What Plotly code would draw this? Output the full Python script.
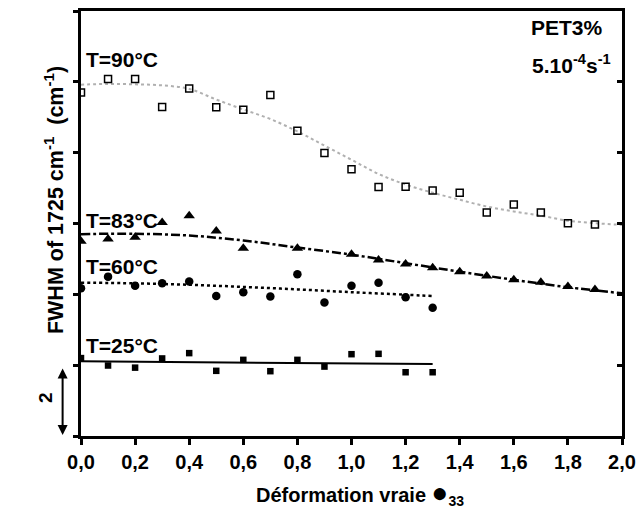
import plotly.graph_objects as go

# ---- data ----
x_90 = [0.0, 0.1, 0.2, 0.3, 0.4, 0.5, 0.6, 0.7, 0.8, 0.9, 1.0, 1.1, 1.2, 1.3, 1.4, 1.5, 1.6, 1.7, 1.8, 1.9]
fwhm_90 = [9.70, 10.08, 10.08, 9.29, 9.81, 9.28, 9.21, 9.63, 8.62, 7.99, 7.53, 7.03, 7.04, 6.93, 6.87, 6.31, 6.54, 6.31, 6.01, 5.97]
fit_90_x = [0.0, 0.1, 0.2, 0.3, 0.4, 0.5, 0.6, 0.7, 0.8, 0.9, 1.0, 1.1, 1.2, 1.3, 1.4, 1.5, 1.6, 1.7, 1.8, 1.9, 2.0]
fit_90 = [9.92, 9.94, 9.93, 9.90, 9.80, 9.50, 9.22, 8.95, 8.60, 8.20, 7.80, 7.40, 7.10, 6.87, 6.67, 6.48, 6.34, 6.22, 6.08, 6.01, 5.96]

x_83 = [0.0, 0.1, 0.2, 0.3, 0.4, 0.5, 0.6, 0.8, 1.0, 1.1, 1.2, 1.3, 1.4, 1.5, 1.6, 1.7, 1.8, 1.9]
fwhm_83 = [5.50, 5.56, 5.61, 6.03, 6.22, 5.79, 5.30, 5.30, 5.13, 4.97, 4.86, 4.75, 4.64, 4.52, 4.41, 4.34, 4.22, 4.14]
fit_83_x = [0.0, 0.2, 0.4, 0.6, 0.8, 1.0, 1.2, 1.4, 1.6, 1.8, 2.0]
fit_83 = [5.70, 5.71, 5.66, 5.52, 5.32, 5.12, 4.88, 4.64, 4.41, 4.20, 4.03]

x_60 = [0.0, 0.1, 0.2, 0.3, 0.4, 0.5, 0.6, 0.7, 0.8, 0.9, 1.0, 1.1, 1.2, 1.3]
fwhm_60 = [4.17, 4.50, 4.24, 4.31, 4.36, 3.95, 4.06, 3.94, 4.57, 3.77, 4.24, 4.33, 3.92, 3.62]
fit_60_x = [0.0, 0.2, 0.4, 0.6, 0.8, 1.0, 1.2, 1.3]
fit_60 = [4.33, 4.31, 4.27, 4.21, 4.14, 4.06, 3.99, 3.95]

x_25 = [0.0, 0.1, 0.2, 0.3, 0.4, 0.5, 0.6, 0.7, 0.8, 0.9, 1.0, 1.1, 1.2, 1.3]
fwhm_25 = [2.20, 1.99, 1.93, 2.19, 2.34, 1.84, 2.15, 1.83, 2.15, 1.96, 2.31, 2.32, 1.80, 1.80]
fit_25_x = [0.0, 1.3]
fit_25 = [2.11, 2.03]

x_ticks = [0.0, 0.2, 0.4, 0.6, 0.8, 1.0, 1.2, 1.4, 1.6, 1.8, 2.0]
scale_bar = [0.03, 1.95]  # the "2" FWHM units scale bar

FONT = "Liberation Sans, Arial, Helvetica, sans-serif"

fig = go.Figure()

# fitted curves
fig.add_trace(go.Scatter(x=fit_90_x, y=fit_90, mode="lines",
                         line=dict(color="#b0b0b0", width=2, dash="dot", shape="spline")))
fig.add_trace(go.Scatter(x=fit_83_x, y=fit_83, mode="lines",
                         line=dict(color="black", width=2.5, dash="dashdot", shape="spline")))
fig.add_trace(go.Scatter(x=fit_60_x, y=fit_60, mode="lines",
                         line=dict(color="black", width=2.5, dash="dot", shape="spline")))
fig.add_trace(go.Scatter(x=fit_25_x, y=fit_25, mode="lines",
                         line=dict(color="black", width=2)))

# data points
fig.add_trace(go.Scatter(x=x_90, y=fwhm_90, mode="markers",
                         marker=dict(symbol="square-open", size=7, color="black", line=dict(width=1.5))))
fig.add_trace(go.Scatter(x=x_83, y=fwhm_83, mode="markers",
                         marker=dict(symbol="triangle-up", size=10, color="black")))
fig.add_trace(go.Scatter(x=x_60, y=fwhm_60, mode="markers",
                         marker=dict(symbol="circle", size=8.5, color="black")))
fig.add_trace(go.Scatter(x=x_25, y=fwhm_25, mode="markers",
                         marker=dict(symbol="square", size=6.5, color="black")))

# invisible trace on the right-hand axis (for inward ticks)
fig.add_trace(go.Scatter(x=[0], y=[0], yaxis="y2", mode="markers",
                         marker=dict(opacity=0), hoverinfo="skip"))

ann = []
def label(text, x, y, size=21, xanchor="left", angle=0):
    ann.append(dict(text=text, x=x, y=y, xref="paper", yref="paper", showarrow=False,
                    xanchor=xanchor, yanchor="middle", textangle=angle,
                    font=dict(family=FONT, size=size, color="black", weight="bold")))

label("T=90°C", 0.006, 0.887)
label("T=83°C", 0.006, 0.508)
label("T=60°C", 0.006, 0.398)
label("T=25°C", 0.006, 0.214)
label("PET3%", 0.968, 0.962, size=21, xanchor="right")
label("5.10<sup>-4</sup>s<sup>-1</sup>", 0.984, 0.876, size=21, xanchor="right")
label("FWHM of 1725 cm<sup>-1</sup>  (cm<sup>-1</sup>)", -0.05, 0.555, size=21.5, xanchor="center", angle=-90)
label("Déformation vraie <span style='font-size:28px'>●</span><sub>33</sub>", 0.515, -0.135, size=20, xanchor="center")
label("2", -0.066, 0.09, size=19, xanchor="center", angle=-90)

# scale bar arrow (double headed)
ann.append(dict(x=-0.034, y=scale_bar[0], xref="paper", yref="y",
                ax=0, ay=scale_bar[1], axref="pixel", ayref="y",
                showarrow=True, arrowhead=2, startarrowhead=2, arrowside="end+start",
                arrowsize=1, arrowwidth=2, arrowcolor="black", text=""))

fig.update_layout(
    template="none",
    width=636, height=515,
    margin=dict(l=81, r=14, t=11, b=79, autoexpand=False),
    paper_bgcolor="white", plot_bgcolor="white",
    showlegend=False,
    separators=",.",
    annotations=ann,
    font=dict(family=FONT, size=20, color="black"),
    xaxis=dict(range=[0, 2.0], tickvals=x_ticks, tickformat=".1f", automargin=False,
               showgrid=False, zeroline=False,
               showline=True, linecolor="black", linewidth=3, mirror=True,
               ticks="outside", ticklen=6, tickwidth=3, tickcolor="black",
               tickfont=dict(family=FONT, size=20, color="black", weight="bold")),
    yaxis=dict(range=[0, 12], dtick=2, showticklabels=False, automargin=False,
               showgrid=False, zeroline=False,
               showline=True, linecolor="black", linewidth=3, mirror=True,
               ticks="outside", ticklen=5, tickwidth=3, tickcolor="black"),
    yaxis2=dict(range=[0, 12], dtick=2, overlaying="y", side="right", automargin=False,
                showticklabels=False, showgrid=False, zeroline=False, showline=False,
                ticks="inside", ticklen=5, tickwidth=3, tickcolor="black"),
)

fig.write_html("out.html", config={"displayModeBar": False},
               post_script="document.body.style.margin='0';")
